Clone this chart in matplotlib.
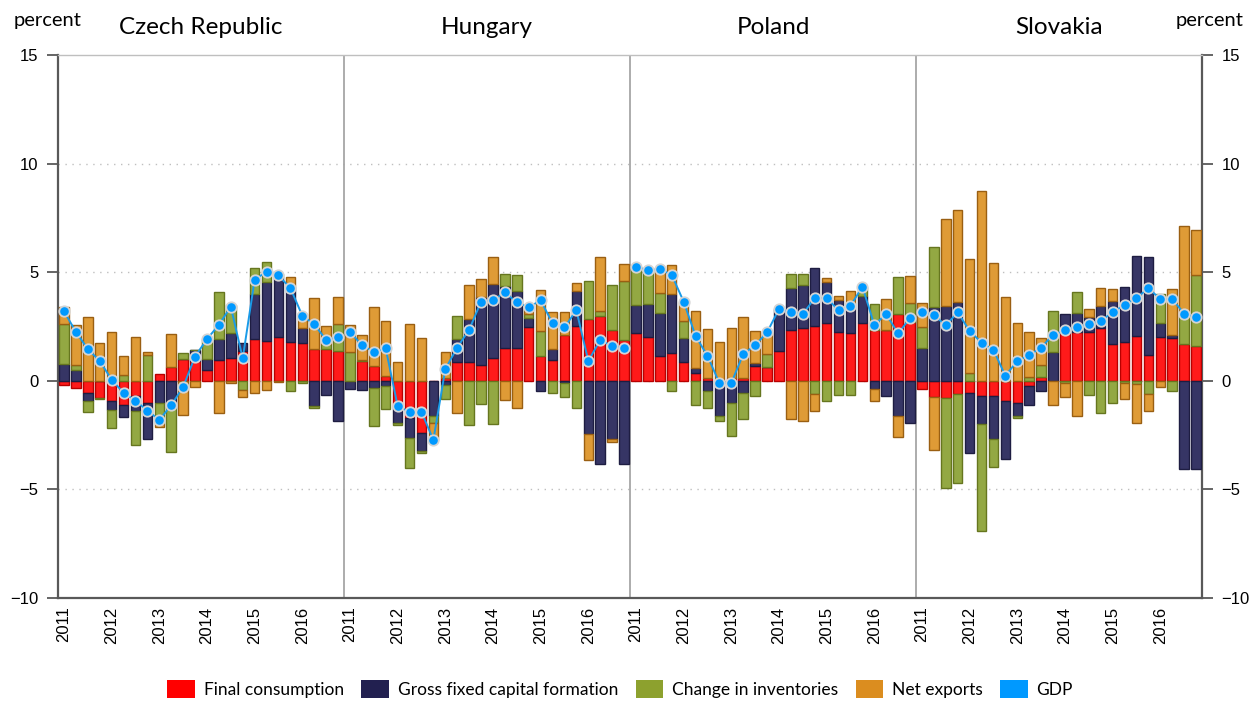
import numpy as np
import matplotlib.pyplot as plt
from matplotlib.patches import Patch

plt.rcParams['font.family'] = ['Lato', 'DejaVu Sans']

countries = ['Czech Republic', 'Hungary', 'Poland', 'Slovakia']
years = ['2011', '2012', '2013', '2014', '2015', '2016']

# quarterly contributions, 2011Q1-2016Q4 for each country (percentage points)
final_consumption = [
    -0.18, -0.31, -0.54, -0.77, -0.92, -1.10, -0.69, -1.00, 0.31, 0.66, 1.00, 0.92,
    0.49, 0.97, 1.07, 1.38, 1.92, 1.84, 2.00, 1.81, 1.76, 1.46, 1.46, 1.38,
    0.00, 0.92, 0.69, 0.23, -1.15, -1.69, -2.38, 0.00, 0.15, 0.87, 0.87, 0.74,
    1.07, 1.53, 1.49, 2.46, 1.15, 0.97, 2.12, 2.53, 2.84, 2.99, 2.35, 1.89,
    2.18, 2.04, 1.15, 1.26, 0.87, 0.34, 0.15, 0.00, 0.15, 0.12, 0.69, 0.66,
    1.38, 2.35, 2.42, 2.53, 2.64, 2.27, 2.19, 2.64, 2.35, 2.35, 3.10, 2.69,
    -0.38, -0.74, -0.77, -0.61, -0.54, -0.72, -0.72, -0.92, -1.00, -0.23, 0.20, 0.00,
    2.18, 2.27, 2.23, 2.41, 1.69, 1.81, 2.07, 1.20, 2.04, 1.95, 1.69, 1.61,
]
gross_fixed_capital = [
    0.77, 0.51, -0.38, 0.00, -0.43, -0.58, -0.69, -1.69, -1.04, -1.23, 0.00, 0.50,
    0.50, 0.95, 1.15, 0.38, 2.07, 2.69, 2.76, 2.49, 0.69, -1.15, -0.64, -1.87,
    -0.38, -0.43, -0.34, -0.23, -0.77, -0.92, -0.87, -1.61, -0.18, 1.04, 1.96, 3.13,
    3.38, 2.84, 2.65, 0.42, -0.46, 0.49, -0.08, 1.61, -2.46, -3.84, -2.66, -3.84,
    1.30, 1.52, 1.96, 2.73, 1.12, 0.25, -0.49, -1.64, -1.03, -0.54, 0.15, 0.00,
    1.92, 1.92, 2.00, 2.66, 1.93, 1.46, 1.41, 1.27, -0.38, -0.69, -1.61, -1.92,
    1.53, 3.38, 3.45, 3.61, -2.79, -1.27, -1.96, -2.69, -0.61, -0.87, -0.46, 1.33,
    0.92, 0.87, 0.69, 1.04, 2.00, 2.53, 3.68, 4.51, 0.64, 0.15, -4.04, -4.04,
]
inventories = [
    1.84, 0.23, -0.51, -0.05, -0.80, 0.26, -1.58, 1.17, -0.95, -2.03, 0.28, 0.00,
    0.92, 2.15, 1.25, -0.43, 1.20, 0.92, 0.15, -0.49, -0.08, -0.08, 0.25, 1.23,
    1.33, 0.05, -1.73, -1.07, -0.12, -1.41, -0.09, -0.35, -0.66, 1.07, -2.04, -1.07,
    -2.00, 0.54, 0.72, 0.20, 1.15, -0.54, -0.66, -1.26, 1.76, 0.23, 2.07, 2.72,
    1.77, 1.54, 0.95, -0.46, 0.77, -1.12, -0.74, -0.23, -1.50, -1.20, -0.69, 0.57,
    0.00, 0.64, 0.52, -0.61, -0.92, -0.66, -0.66, 0.42, 1.18, 0.00, 1.66, 0.89,
    0.97, 2.79, -4.14, -4.10, 0.38, -4.94, -1.30, 0.00, -0.11, 0.18, 0.52, 1.89,
    -0.10, 0.97, -0.66, -1.50, -1.04, -0.10, -0.15, -0.61, 1.34, -0.49, 1.26, 3.25,
]
net_exports = [
    0.77, 1.84, 2.92, 1.75, 2.23, 0.90, 2.04, 0.15, -0.12, 1.49, -1.55, -0.30,
    0.00, -1.49, -0.08, -0.31, -0.54, -0.41, -0.05, 0.46, 0.63, 2.35, 0.82, 1.23,
    1.23, 1.12, 2.73, 2.53, 0.89, 2.61, 1.95, -0.76, 1.20, -1.49, 1.57, 0.84,
    1.26, -0.87, -1.27, 0.30, 1.87, 1.72, 1.06, 0.35, -1.20, 2.49, -0.15, 0.77,
    0.00, 0.00, 1.07, 1.35, 0.89, 2.61, 2.23, 1.80, 2.30, 2.84, 1.46, 1.00,
    0.00, -1.76, -1.87, -0.77, 0.18, 0.18, 0.54, 0.00, -0.54, 1.41, -0.97, 1.23,
    1.10, -2.44, 4.02, 4.25, 5.22, 8.72, 5.42, 3.84, 2.64, 2.09, 1.27, -1.10,
    -0.66, -1.64, 0.38, 0.84, 0.54, -0.74, -1.80, -0.80, -0.28, 2.15, 4.19, 2.09,
]
gdp = [
    3.20, 2.26, 1.46, 0.92, 0.05, -0.55, -0.92, -1.37, -1.80, -1.12, -0.28, 1.12,
    1.92, 2.58, 3.41, 1.04, 4.65, 5.03, 4.85, 4.27, 3.00, 2.60, 1.89, 2.00,
    2.26, 1.64, 1.34, 1.49, -1.15, -1.43, -1.43, -2.72, 0.54, 1.53, 2.35, 3.64,
    3.71, 4.07, 3.61, 3.38, 3.71, 2.65, 2.46, 3.25, 0.92, 1.87, 1.61, 1.53,
    5.25, 5.10, 5.14, 4.88, 3.65, 2.07, 1.15, -0.10, -0.10, 1.23, 1.64, 2.23,
    3.30, 3.18, 3.07, 3.81, 3.81, 3.25, 3.45, 4.33, 2.58, 3.07, 2.18, 2.89,
    3.19, 3.02, 2.56, 3.15, 2.30, 1.76, 1.43, 0.23, 0.92, 1.18, 1.53, 2.12,
    2.33, 2.49, 2.61, 2.76, 3.15, 3.50, 3.81, 4.27, 3.76, 3.76, 3.10, 2.92,
]

labels = ['Final consumption', 'Gross fixed capital formation',
          'Change in inventories', 'Net exports']
fill = ['#FF1A1A', '#363565', '#93A843', '#DF9B36']
edge = ['#B80000', '#1E1D42', '#66761F', '#9A5F12']
legend_col = ['#FF0000', '#222050', '#8DA12E', '#DB8D1F']
gdp_col = '#0099FF'

n = len(gdp)
x = np.arange(n)

fig = plt.figure(figsize=(12.53, 7.02), dpi=100)
ax = fig.add_axes([0.0463, 0.148, 0.913, 0.7737])

pos_base = np.zeros(n)
neg_base = np.zeros(n)
for vals, fc, ec in zip([final_consumption, gross_fixed_capital, inventories, net_exports], fill, edge):
    v = np.array(vals)
    base = np.where(v >= 0, pos_base, neg_base)
    ax.bar(x, v, bottom=base, width=0.8, color=fc, edgecolor=ec, linewidth=1.0, zorder=3)
    pos_base = pos_base + np.where(v > 0, v, 0)
    neg_base = neg_base + np.where(v < 0, v, 0)

# gdp line, broken between countries
for k in range(4):
    s = slice(k * 24, (k + 1) * 24)
    ax.plot(x[s], np.array(gdp)[s], color='#1A9BE8', lw=1.4, marker='o', ms=7.5,
            mfc=gdp_col, mec='#D4D4D4', mew=1.3, zorder=5)

ax.set_xlim(-0.5, n - 0.5)
ax.set_ylim(-10, 15)

for yv in [-5, 0, 5, 10]:
    ax.axhline(yv, color='#BFBFBF', lw=1, ls=(0, (1, 4)), zorder=1)
for k in range(1, 4):
    ax.axvline(k * 24 - 0.5, color='#A6A6A6', lw=1.3, zorder=2)

for k, c in enumerate(countries):
    ax.text(k * 24 + 11.5, 16.25, c, ha='center', va='center', fontsize=17.5, color='black')

fig.text(0.038, 0.971, 'percent', ha='center', va='center', fontsize=14.5)
fig.text(0.965, 0.971, 'percent', ha='center', va='center', fontsize=14.5)

ax.set_yticks([-10, -5, 0, 5, 10, 15])
ax.tick_params(axis='y', which='both', direction='out', length=8, width=1.3,
               color='#595959', labelsize=12, right=True, labelright=True, pad=6)
for t in ax.get_yticklabels():
    t.set_fontfamily('Liberation Sans')

ticks = np.arange(0, n, 4)
ax.set_xticks(ticks)
ax.set_xticklabels(years * 4, rotation=90, fontsize=12, fontfamily='Liberation Sans')
ax.tick_params(axis='x', length=0, pad=6)

for side in ['left', 'right', 'bottom']:
    ax.spines[side].set_color('#595959')
    ax.spines[side].set_linewidth(1.6)
ax.spines['top'].set_color('#BFBFBF')
ax.spines['top'].set_linewidth(1.0)

handles = [Patch(facecolor=c, edgecolor='none') for c in legend_col]
handles.append(Patch(facecolor=gdp_col, edgecolor='none'))
fig.legend(handles, labels + ['GDP'], loc='lower center', bbox_to_anchor=(0.495, -0.017),
           ncol=5, frameon=False, fontsize=12.5, handlelength=1.6, handleheight=1.25,
           columnspacing=1.0, handletextpad=0.5)

fig.savefig('out.png', dpi=100)
